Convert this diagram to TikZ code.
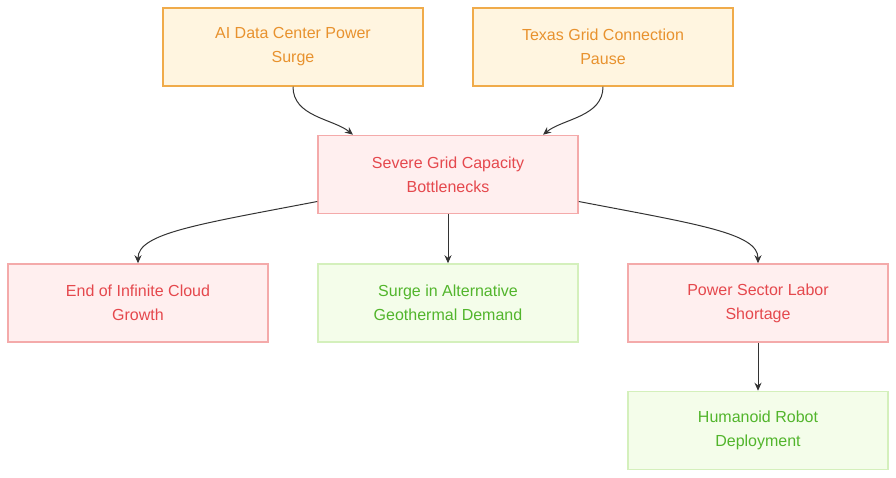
\documentclass[tikz,border=0pt]{standalone}
\usepackage{fontspec}
\setmainfont{Liberation Sans}
\usetikzlibrary{arrows.meta,calc}
\definecolor{orfill}{HTML}{FFF5E0}
\definecolor{ordraw}{HTML}{F0AB4A}
\definecolor{ortext}{HTML}{E8922E}
\definecolor{rdfill}{HTML}{FFEFEF}
\definecolor{rddraw}{HTML}{F4AAAA}
\definecolor{rdtext}{HTML}{E5484D}
\definecolor{grfill}{HTML}{F4FDEA}
\definecolor{grdraw}{HTML}{D4F0BC}
\definecolor{grtext}{HTML}{52B52C}
\definecolor{edge}{HTML}{333333}
\tikzset{
  box/.style={draw, line width=1.5pt, minimum width=260pt, minimum height=78pt, inner sep=0pt, align=center, font=\fontsize{16}{24}\selectfont},
  orbox/.style={box, fill=orfill, draw=ordraw, text=ortext},
  rdbox/.style={box, fill=rdfill, draw=rddraw, text=rdtext},
  grbox/.style={box, fill=grfill, draw=grdraw, text=grtext},
  conn/.style={draw=edge, line width=1pt, -{Stealth[length=8pt,width=7pt]}}
}
\begin{document}
\begin{tikzpicture}[x=1pt,y=-1pt]
\useasboundingbox (0,0) rectangle (896,478);
\node[orbox] (a) at (293,47) {AI Data Center Power\\Surge};
\node[orbox] (b) at (603,47) {Texas Grid Connection\\Pause};
\node[rdbox] (c) at (448,174.5) {Severe Grid Capacity\\Bottlenecks};
\node[rdbox] (d) at (138,303) {End of Infinite Cloud\\Growth};
\node[grbox] (e) at (448,303) {Surge in Alternative\\Geothermal Demand};
\node[rdbox] (f) at (758,303) {Power Sector Labor\\Shortage};
\node[grbox] (g) at (758,430.5) {Humanoid Robot\\Deployment};
\draw[conn] (a.south) .. controls ($(a.south)+(0,30)$) and ($(c.north)+(-115,-16)$) .. ($(c.north)+(-95,0)$);
\draw[conn] (b.south) .. controls ($(b.south)+(0,30)$) and ($(c.north)+(115,-16)$) .. ($(c.north)+(95,0)$);
\draw[conn] ($(c.west)+(0,27)$) .. controls ($(c.west)+(-120,50)$) and ($(d.north)+(0,-30)$) .. (d.north);
\draw[conn] ($(c.east)+(0,27)$) .. controls ($(c.east)+(120,50)$) and ($(f.north)+(0,-30)$) .. (f.north);
\draw[conn] (c.south) -- (e.north);
\draw[conn] (f.south) -- (g.north);
\end{tikzpicture}
\end{document}
